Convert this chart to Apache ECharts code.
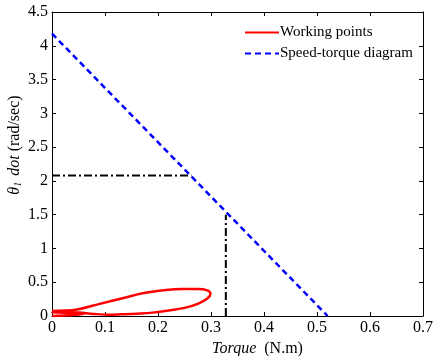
<!DOCTYPE html>
<html>
<head>
<meta charset="utf-8">
<script src="https://cdn.jsdelivr.net/npm/echarts@6/dist/echarts.min.js"></script>
<style>
  html, body { margin: 0; padding: 0; background: #fff; }
  #chart { width: 433px; height: 356px; }
</style>
</head>
<body>
<div id="chart"></div>
<script>
// working points loop (torque N.m, speed rad/sec)
const workTorque = [0, 0.025, 0.05, 0.09, 0.137, 0.171, 0.21, 0.245, 0.275, 0.293, 0.299, 0.293, 0.275, 0.25, 0.22, 0.19, 0.16, 0.13, 0.11, 0.08, 0.05, 0.02, 0, 0.03, 0.06, 0.04, 0.01, 0]
const workSpeed = [0.075, 0.08, 0.10, 0.18, 0.27, 0.336, 0.38, 0.40, 0.40, 0.38, 0.33, 0.26, 0.18, 0.12, 0.08, 0.05, 0.035, 0.025, 0.02, 0.03, 0.05, 0.06, 0.055, 0.045, 0.03, 0.015, 0.005, 0]

// speed-torque diagram
const stTorque = [0, 0.52]
const stSpeed = [4.18, 0]

// dash-dot reference lines
const hRefTorque = [0, 0.263]
const hRefSpeed = [2.08, 2.08]
const vRefTorque = [0.328, 0.328]
const vRefSpeed = [0, 1.5]

const pairs = (xs, ys) => xs.map((x, i) => [x, ys[i]])

const chart = echarts.init(document.getElementById('chart'))
const font = 'Liberation Serif'

const axisCommon = {
  type: 'value',
  splitLine: { show: false },
  axisLine: { show: true, onZero: false, lineStyle: { color: '#000', width: 1 } },
  axisTick: { show: true, inside: true, length: 4, lineStyle: { color: '#000' } }
}

const option = {
  animation: false,
  grid: { left: 52, right: 10, top: 12, bottom: 40, containLabel: false, outerBoundsMode: 'none' },
  legend: {
    orient: 'vertical',
    left: 239,
    top: 20,
    itemWidth: 34,
    itemHeight: 14,
    itemGap: 6,
    itemStyle: { opacity: 0 },
    textStyle: { fontFamily: font, fontSize: 15, color: '#000', padding: [0, 0, 0, -4] },
    data: ['Working points', 'Speed-torque diagram']
  },
  xAxis: [
    Object.assign({}, axisCommon, {
      min: 0, max: 0.7, interval: 0.1,
      axisLabel: { fontFamily: font, fontSize: 16, color: '#000', margin: 4 },
      name: '{i|Torque}  (N.m)',
      nameLocation: 'middle',
      nameGap: 23,
      nameTextStyle: {
        fontFamily: font, fontSize: 16, color: '#000', padding: [0, 0, 0, 40],
        rich: { i: { fontFamily: font, fontSize: 16, fontStyle: 'italic', color: '#000' } }
      }
    }),
    Object.assign({}, axisCommon, {
      position: 'top', min: 0, max: 0.7, interval: 0.1,
      axisLabel: { show: false }
    })
  ],
  yAxis: [
    Object.assign({}, axisCommon, {
      min: 0, max: 4.5, interval: 0.5,
      axisLabel: { fontFamily: font, fontSize: 16, color: '#000', margin: 4 },
      name: '{i|θ}{s|1} {i|dot} (rad/sec)',
      nameLocation: 'middle',
      nameGap: 29,
      nameMoveOverlap: false,
      nameRotate: 90,
      nameTextStyle: {
        fontFamily: font, fontSize: 16, color: '#000', padding: [0, 0, 0, 38],
        rich: {
          i: { fontFamily: font, fontSize: 16, fontStyle: 'italic', color: '#000' },
          s: { fontFamily: font, fontSize: 10, fontStyle: 'italic', color: '#000', padding: [6, 2, 0, 0] }
        }
      }
    }),
    Object.assign({}, axisCommon, {
      position: 'right', min: 0, max: 4.5, interval: 0.5,
      axisLabel: { show: false }
    })
  ],
  series: [
    {
      name: 'Working points',
      type: 'line',
      data: pairs(workTorque, workSpeed),
      smooth: 0.4,
      symbol: 'none',
      lineStyle: { color: '#ff0000', width: 2.5 },
      itemStyle: { color: '#ff0000' }
    },
    {
      name: 'Speed-torque diagram',
      type: 'line',
      data: pairs(stTorque, stSpeed),
      symbol: 'none',
      lineStyle: { color: '#0000ff', width: 2.5, type: [6, 4] },
      itemStyle: { color: '#0000ff' }
    },
    {
      name: 'hRef',
      type: 'line',
      data: pairs(hRefTorque, hRefSpeed),
      symbol: 'none',
      lineStyle: { color: '#000', width: 2, type: [8, 3, 2, 3] }
    },
    {
      name: 'vRef',
      type: 'line',
      data: pairs(vRefTorque, vRefSpeed),
      symbol: 'none',
      lineStyle: { color: '#000', width: 2, type: [8, 3, 2, 3] }
    }
  ]
}

chart.setOption(option)
</script>
</body>
</html>
